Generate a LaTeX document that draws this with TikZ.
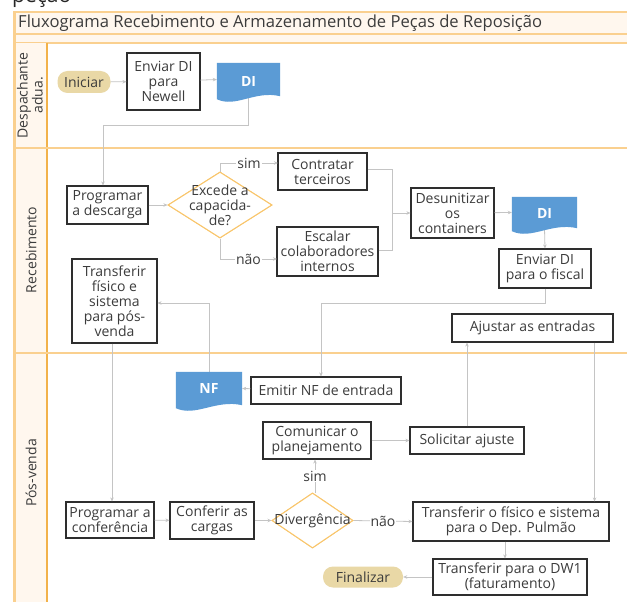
\documentclass[tikz,border=0pt]{standalone}
\usepackage{fontspec}
\setmainfont{Open Sans}
\usetikzlibrary{shapes.geometric,calc,arrows.meta,shadows}
\definecolor{txt}{HTML}{3C3C3C}
\definecolor{boxline}{HTML}{2E2E2E}
\definecolor{conn}{HTML}{C4C4C4}
\definecolor{docblue}{HTML}{5B9BD5}
\definecolor{decor}{HTML}{F9C56A}
\definecolor{pill}{HTML}{E9D8A6}
\definecolor{cream}{HTML}{FFF7EE}
\definecolor{laneline}{HTML}{FAD08F}
\definecolor{colline}{HTML}{F2B24A}
\newcommand\boxfont{\fontsize{14}{15}\selectfont}
\newcommand\titlefont{\fontsize{16.6}{18}\selectfont}
\newcommand\docshape[1]{%
  \fill[docblue] (#1.north west) -- (#1.north east) -- (#1.south east)
    .. controls ($(#1.south west)!0.6!(#1.south east)+(0,-6)$) and ($(#1.south west)!0.3!(#1.south east)+(0,12)$) .. ($(#1.south west)+(0,3)$) -- cycle;}
\tikzset{
  box/.style={draw=boxline, line width=1.1pt, fill=white, text=txt, align=center,
    inner sep=2pt, font=\boxfont,
    drop shadow={shadow xshift=1.2pt, shadow yshift=-1.2pt, opacity=0.3, fill=black}},
  pillbox/.style={fill=pill, rounded corners=10pt, text=txt, font=\boxfont, inner sep=2pt},
  decision/.style={diamond, draw=decor, line width=1pt, fill=white, inner sep=0pt},
  dectext/.style={text=txt, font=\boxfont, align=center, inner sep=0pt},
  docnode/.style={inner sep=0pt, text=white, font=\boxfont\bfseries},
  link/.style={draw=conn, line width=0.8pt, -{Stealth[length=4pt,width=3.5pt]}},
  plainlink/.style={draw=conn, line width=0.8pt},
  flabel/.style={fill=white, text=txt, font=\boxfont, inner sep=1pt},
  lanelabel/.style={rotate=90, text=txt, font=\fontsize{14}{13.5}\selectfont, align=center, inner sep=0pt}
}
\begin{document}
\begin{tikzpicture}[x=1pt,y=-1pt]
\useasboundingbox (0,0) rectangle (627,602);
\clip (0,0) rectangle (627,602);
% background
\fill[white] (0,0) rectangle (627,602);
\fill[cream] (13,12) rectangle (640,43);
\draw[laneline, line width=1.2pt] (13,12) -- (640,12);
\draw[laneline, line width=1.2pt] (13,34) -- (640,34);
\draw[laneline, line width=1.2pt] (13,43) -- (640,43);
\fill[cream] (13,43) rectangle (47,620);
\draw[laneline, line width=2.5pt] (14.5,12) -- (14.5,620);
\draw[colline, line width=1.2pt] (47,43) -- (47,620);
\draw[laneline, line width=1.4pt] (13,148) -- (640,148);
\draw[laneline, line width=1.4pt] (13,353) -- (640,353);
% top texts
\node[anchor=base west, inner sep=0pt, text=black!85, font=\fontsize{21}{21}\selectfont] (cut) at (12,3) {peção};
\node[anchor=west, inner sep=0pt, text=txt, font=\titlefont] (title) at (18,23.5) {Fluxograma Recebimento e Armazenamento de Peças de Reposição};
% lane labels
\node[lanelabel] (lane1) at (30,95.5) {Despachante\\adua.};
\node[lanelabel] (lane2) at (31,250) {Recebimento};
\node[lanelabel] (lane3) at (31,473) {Pós-venda};
% nodes
\node[pillbox, minimum width=53pt, minimum height=22pt] (ini) at (84,82) {Iniciar};
\node[box, minimum width=73pt, minimum height=57pt] (envia) at (163.5,81.5) {Enviar DI\\para\\Newell};
\node[docnode, minimum width=63pt, minimum height=33pt] (di1) at (248.5,79.5) {};
\node[box, minimum width=81pt, minimum height=38pt] (prog) at (107.5,205) {Programar\\a descarga};
\node[decision, minimum width=104pt, minimum height=66pt] (dec1) at (220,205) {};
\node[box, minimum width=89pt, minimum height=37pt] (contr) at (322.5,171.5) {Contratar\\terceiros};
\node[box, minimum width=101pt, minimum height=49pt] (escal) at (327.5,251.5) {Escalar\\colaboradores\\internos};
\node[box, minimum width=83pt, minimum height=50pt] (desun) at (452.5,213) {Desunitizar\\os\\containers};
\node[docnode, minimum width=65pt, minimum height=31pt] (di2) at (544.5,212.5) {};
\node[box, minimum width=92pt, minimum height=39pt] (envf) at (545,268.5) {Enviar DI\\para o fiscal};
\node[box, minimum width=161pt, minimum height=28pt] (ajust) at (532.5,328) {Ajustar as entradas};
\node[box, minimum width=85pt, minimum height=84pt] (trpv) at (114.5,301) {Transferir\\físico e\\sistema\\para pós-\\venda};
\node[docnode, minimum width=66pt, minimum height=33pt] (nf) at (209,388.5) {};
\node[box, minimum width=150pt, minimum height=27pt] (emit) at (326,390.5) {Emitir NF de entrada};
\node[box, minimum width=108pt, minimum height=37pt] (comun) at (317,440.5) {Comunicar o\\planejamento};
\node[box, minimum width=114pt, minimum height=27pt] (solic) at (467,440.5) {Solicitar ajuste};
\node[decision, minimum width=81pt, minimum height=55pt] (dec2) at (312.5,520.5) {};
\node[box, minimum width=196pt, minimum height=39pt] (pulm) at (511,521.5) {Transferir o físico e sistema\\para o Dep. Pulmão};
\node[box, minimum width=154pt, minimum height=36pt] (dw1) at (510,577) {Transferir para o DW1\\(faturamento)};
\node[pillbox, minimum width=80pt, minimum height=21pt] (fin) at (363,577) {Finalizar};
\node[box, minimum width=88pt, minimum height=36pt] (progc) at (110,520) {Programar a\\conferência};
\node[box, minimum width=84pt, minimum height=37pt] (conf) at (212,520.5) {Conferir as\\cargas};
% waypoints
\coordinate (w1) at (103,125);
\coordinate (s1) at (278,163);
\coordinate (n1) at (277,259);
\coordinate (j1) at (392,213);
\coordinate (w3) at (321,303);
% connectors
\draw[link] (ini) -- (envia);
\draw[link] (envia) -- (di1.west);
\draw[link] (di1.south) |- (w1) -- (w1 |- prog.north);
\draw[link] (prog) -- (dec1.west);
\draw[link] (dec1.north) |- node[flabel, pos=0.75] {sim} (s1);
\draw[link] (dec1.south) |- node[flabel, pos=0.75] {não} (n1);
\draw[plainlink] (contr.east |- 0,169) -| (j1);
\draw[plainlink] (escal.east |- 0,250) -| (j1);
\draw[link] (j1) -- (desun.west);
\draw[link] (desun) -- (di2.west);
\draw[link] (di2.south) -- (envf.north);
\draw[link] (envf.south) |- (w3) -- (w3 |- emit.north);
\draw[link] (nf.north) |- (trpv.east |- 0,303);
\draw[link] (emit) -- (nf.east);
\draw[link] (trpv.south -| 112,0) -- (progc.north -| 112,0);
\draw[link] (progc) -- (conf);
\draw[link] (conf.east) -- (dec2.west);
\draw[link] (dec2.north -| 315,0) -- node[flabel] {sim} (comun.south -| 315,0);
\draw[link] (dec2.east) -- node[flabel] {não} (pulm.west);
\draw[link] (comun) -- (solic);
\draw[link] (solic.north) -- (solic.north |- ajust.south);
\draw[link] ([xshift=-19pt]ajust.south east) -- ([xshift=-19pt]ajust.south east |- pulm.north);
\draw[link] (pulm.south -| 505,0) -- (dw1.north -| 505,0);
\draw[link] (dw1) -- (fin);
% redraw diamonds and documents over lines
\node[decision, minimum width=104pt, minimum height=66pt] at (dec1) {};
\node[dectext] at (dec1) {Excede a\\capacida-\\de?};
\node[decision, minimum width=81pt, minimum height=55pt] at (dec2) {};
\node[dectext] at (dec2) {Divergência};
\docshape{di1}
\node[docnode] at ($(di1)+(0,2)$) {DI};
\docshape{di2}
\node[docnode] at ($(di2)+(0,1)$) {DI};
\docshape{nf}
\node[docnode] at (nf) {NF};
\end{tikzpicture}
\end{document}
